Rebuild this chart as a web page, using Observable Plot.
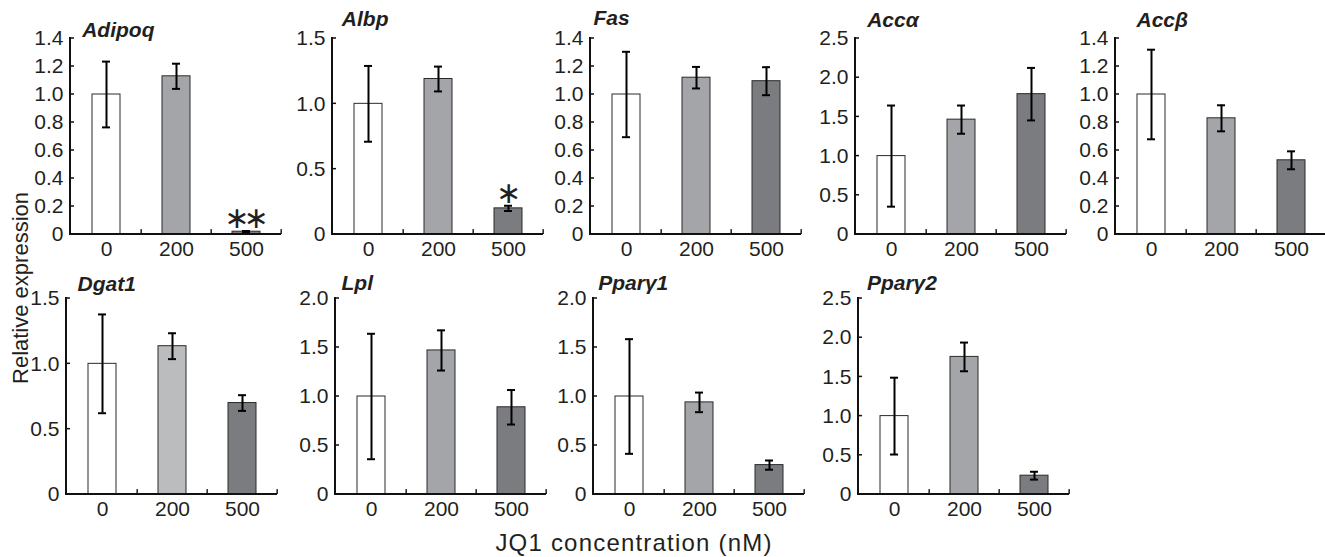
<!DOCTYPE html>
<html>
<head>
<meta charset="utf-8">
<script src="https://cdn.jsdelivr.net/npm/d3@7"></script>
<script src="https://cdn.jsdelivr.net/npm/@observablehq/plot@0.6"></script>
<style>
  body { margin: 0; background: #ffffff; }
  #chart { position: relative; width: 1325px; height: 557px; overflow: hidden; background: #ffffff;
           font-family: "Liberation Sans", Arial, Helvetica, sans-serif; color: #231f20; }
  #ytitle { position: absolute; left: 21px; top: 288px; transform: translate(-50%, -50%) rotate(-90deg);
            white-space: nowrap; font-size: 22px; line-height: 1; }
  #xtitle { position: absolute; left: 384px; width: 500px; top: 530.5px; text-align: center;
            white-space: nowrap; font-size: 24px; letter-spacing: 1.2px; line-height: 1; }
</style>
</head>
<body>
<div id="chart">
  <div id="ytitle">Relative expression</div>
  <div id="xtitle">JQ1 concentration (nM)</div>
</div>
<script>
// ---- data ----
const concentrations = ["0", "200", "500"];
const genes = ["Adipoq", "Albp", "Fas", "Accα", "Accβ", "Dgat1", "Lpl", "Pparγ1", "Pparγ2"];

const adipoqMean = [1.00, 1.13, 0.02];
const adipoqErr  = [0.235, 0.09, 0.005];
const albpMean   = [1.00, 1.19, 0.20];
const albpErr    = [0.29, 0.095, 0.02];
const fasMean    = [1.00, 1.12, 1.095];
const fasErr     = [0.305, 0.077, 0.10];
const accaMean   = [1.00, 1.465, 1.79];
const accaErr    = [0.645, 0.18, 0.335];
const accbMean   = [1.00, 0.83, 0.53];
const accbErr    = [0.32, 0.093, 0.064];
const dgat1Mean  = [1.00, 1.135, 0.70];
const dgat1Err   = [0.378, 0.099, 0.06];
const lplMean    = [1.00, 1.47, 0.89];
const lplErr     = [0.64, 0.205, 0.176];
const ppary1Mean = [1.00, 0.94, 0.30];
const ppary1Err  = [0.585, 0.10, 0.047];
const ppary2Mean = [1.00, 1.755, 0.24];
const ppary2Err  = [0.49, 0.183, 0.05];

const adipoqSig = ["", "", "∗∗"];
const albpSig   = ["", "", "∗"];
const noSig     = ["", "", ""];

const ticks14 = [0, 0.2, 0.4, 0.6, 0.8, 1.0, 1.2, 1.4];
const ticks15 = [0, 0.5, 1.0, 1.5];
const ticks20 = [0, 0.5, 1.0, 1.5, 2.0];
const ticks25 = [0, 0.5, 1.0, 1.5, 2.0, 2.5];

// ---- styles ----
const barFills   = ["#ffffff", "#a4a5a8", "#7b7c80"];
const dgat1Fills = ["#ffffff", "#bbbcbe", "#7b7c80"];

const panels = [
  {gene: genes[0], mean: adipoqMean, err: adipoqErr, ticks: ticks14, fills: barFills, sig: adipoqSig},
  {gene: genes[1], mean: albpMean,   err: albpErr,   ticks: ticks15, fills: barFills, sig: albpSig},
  {gene: genes[2], mean: fasMean,    err: fasErr,    ticks: ticks14, fills: barFills, sig: noSig},
  {gene: genes[3], mean: accaMean,   err: accaErr,   ticks: ticks25, fills: barFills, sig: noSig},
  {gene: genes[4], mean: accbMean,   err: accbErr,   ticks: ticks14, fills: barFills, sig: noSig},
  {gene: genes[5], mean: dgat1Mean,  err: dgat1Err,  ticks: ticks15, fills: dgat1Fills, sig: noSig},
  {gene: genes[6], mean: lplMean,    err: lplErr,    ticks: ticks20, fills: barFills, sig: noSig},
  {gene: genes[7], mean: ppary1Mean, err: ppary1Err, ticks: ticks20, fills: barFills, sig: noSig},
  {gene: genes[8], mean: ppary2Mean, err: ppary2Err, ticks: ticks25, fills: barFills, sig: noSig}
];

// layout: y-axis x position, plot top, title offsets
const layout = [
  {ax: 70,    top: 37.7,  tdx: 11.7, tdy: -2},
  {ax: 331.7, top: 37.7,  tdx: 9.3,  tdy: -12.7},
  {ax: 590,   top: 37.7,  tdx: 3,    tdy: -13.7},
  {ax: 855,   top: 37.7,  tdx: 11.7, tdy: -11.7},
  {ax: 1115,  top: 37.7,  tdx: 21,   tdy: -11.7},
  {ax: 65.7,  top: 298.3, tdx: 11,   tdy: -7.6},
  {ax: 335,   top: 298.3, tdx: 6,    tdy: -9},
  {ax: 593.3, top: 298.3, tdx: 4.7,  tdy: -9},
  {ax: 858.3, top: 298.3, tdx: 8.4,  tdy: -9}
];

const FONT = '"Liberation Sans", Arial, Helvetica, sans-serif';
const W = 211, H = 196, ML = 60, MR = 8, MT = 40, MB = 40;
const step = W / concentrations.length;
const ink = "black";
const axisInk = "#111111";

function makePanel(p, L) {
  const ymax = p.ticks[p.ticks.length - 1];
  const rows = concentrations.map((c, i) => ({
    conc: c, mean: p.mean[i], lo: p.mean[i] - p.err[i], hi: p.mean[i] + p.err[i], sig: p.sig[i]
  }));
  const sigRows = rows.filter(d => d.sig);
  const bars = concentrations.map((c, i) =>
    Plot.barY(rows.filter(d => d.conc === c), {x: "conc", y: "mean", fill: p.fills[i], stroke: "#2a2a2a", strokeWidth: 1}));
  const svg = Plot.plot({
    width: ML + W + MR, height: MT + H + MB,
    marginLeft: ML, marginRight: MR, marginTop: MT, marginBottom: MB,
    style: {fontSize: "21px", fontFamily: FONT, background: "transparent", overflow: "visible"},
    x: {domain: concentrations, paddingInner: 0.6, paddingOuter: 0.3, label: null, tickSize: 0, tickPadding: 7},
    y: {domain: [0, ymax], ticks: p.ticks, tickSize: 0, tickPadding: 7, label: null,
        tickFormat: d => d === 0 ? "0" : d.toFixed(1)},
    marks: [
      ...bars,
      // axis lines as thin filled rects (x-axis across the frame, y-axis at its left edge)
      Plot.rect([0], {y1: 0, y2: 0, insetTop: -1, insetBottom: -1, insetLeft: -1, fill: axisInk}),
      Plot.rect([ymax], {y1: 0, y2: d => d, insetLeft: -1, insetRight: W - 1, insetTop: -1, fill: axisInk}),
      // inward y ticks
      Plot.rect(p.ticks, {y1: d => d, y2: d => d, insetTop: -0.75, insetBottom: -0.75, insetRight: W - 4, fill: axisInk}),
      // category boundary ticks on the x axis
      Plot.barY(concentrations, {x: d => d, y1: 0, y2: ymax / 40, dx: step / 2, insetLeft: 13.3, insetRight: 13.3, fill: axisInk}),
      // error bars
      Plot.ruleX(rows, {x: "conc", y1: "lo", y2: "hi", stroke: ink, strokeWidth: 2}),
      Plot.tickY(rows, {x: "conc", y: "hi", stroke: ink, strokeWidth: 2, insetLeft: 10, insetRight: 10}),
      Plot.tickY(rows, {x: "conc", y: "lo", stroke: ink, strokeWidth: 2, insetLeft: 10, insetRight: 10}),
      Plot.text(sigRows, {x: "conc", y: "hi", text: "sig", lineAnchor: "bottom", dy: -3, dx: -3, fontSize: 30,
        fontFamily: '"DejaVu Sans", sans-serif', fill: "#231f20"}),
      Plot.text([p.gene], {text: d => d, frameAnchor: "top-left", textAnchor: "start", lineAnchor: "bottom",
        dx: L.tdx, dy: L.tdy, fontWeight: "bold", fontStyle: "italic", fontSize: 21, fill: "#231f20"})
    ]
  });
  svg.querySelectorAll("text").forEach(t => {
    if (t.textContent.includes("∗")) t.style.letterSpacing = "-6px";
  });
  svg.style.position = "absolute";
  svg.style.left = (L.ax - ML) + "px";
  svg.style.top = (L.top - MT) + "px";
  svg.style.maxWidth = "none";
  return svg;
}

const chart = document.getElementById("chart");
panels.forEach((p, i) => chart.appendChild(makePanel(p, layout[i])));
</script>
</body>
</html>
